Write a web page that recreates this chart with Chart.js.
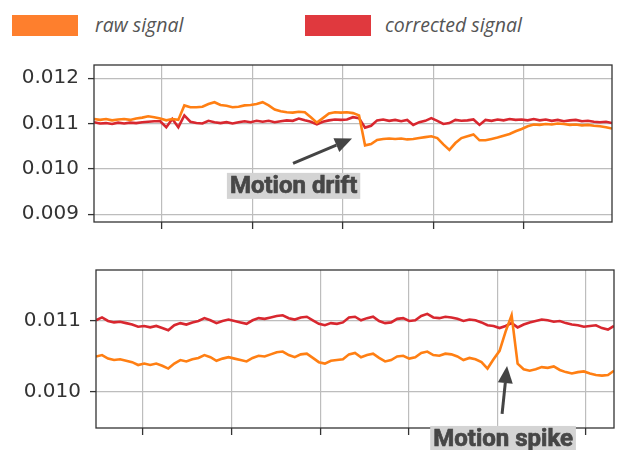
<!DOCTYPE html>
<html>
<head>
<meta charset="utf-8">
<script src="https://cdn.jsdelivr.net/npm/chart.js@4.4.1/dist/chart.umd.min.js"></script>
<style>
  html, body { margin: 0; padding: 0; background: #fff; }
  #wrap { position: relative; width: 625px; height: 450px; overflow: hidden; }
  #wrap canvas { position: absolute; left: 0; top: 0; }
  .legend-box { position: absolute; width: 66px; height: 21px; }
  .legend-text {
    position: absolute; font-family: 'Open Sans', sans-serif; font-style: italic;
    font-size: 19.5px; color: #555; line-height: 21px; white-space: nowrap;
  }
</style>
</head>
<body>
<div id="wrap">
  <div class="legend-box" style="left:12px; top:15px; background:#fe7f2d;"></div>
  <div class="legend-text" style="left:95px; top:14px;">raw signal</div>
  <div class="legend-box" style="left:305px; top:15px; background:#e0393e;"></div>
  <div class="legend-text" style="left:385px; top:14px;">corrected signal</div>
  <canvas id="topChart" width="625" height="450"></canvas>
  <canvas id="bottomChart" width="625" height="450"></canvas>
</div>
<script>
// Top panel (motion drift)
const topStart = 0.249;
const topEnd = 5.972;
const topXTicks = [1, 2, 3, 4, 5];
const topYTicks = [0.009, 0.010, 0.011, 0.012];
const topRaw = [
  0.01110, 0.01108, 0.01110, 0.01107, 0.01109, 0.01110, 0.01108, 0.01111, 0.01113, 0.01116,
  0.01114, 0.01111, 0.01107, 0.01110, 0.01108, 0.01140, 0.01136, 0.01136, 0.01137, 0.01143,
  0.01147, 0.01141, 0.01139, 0.01136, 0.01137, 0.01140, 0.01141, 0.01143, 0.01147, 0.01140,
  0.01131, 0.01127, 0.01125, 0.01124, 0.01126, 0.01125, 0.01114, 0.01102, 0.01112, 0.01122,
  0.01125, 0.01124, 0.01125, 0.01123, 0.01118, 0.01052, 0.01055, 0.01064, 0.01066, 0.01067,
  0.01066, 0.01067, 0.01065, 0.01066, 0.01068, 0.01070, 0.01072, 0.01068, 0.01054, 0.01042,
  0.01057, 0.01068, 0.01072, 0.01076, 0.01063, 0.01063, 0.01066, 0.01069, 0.01073, 0.01077,
  0.01083, 0.01088, 0.01094, 0.01098, 0.01097, 0.01099, 0.01098, 0.01100, 0.01099, 0.01097,
  0.01098, 0.01096, 0.01097, 0.01095, 0.01094, 0.01092, 0.01089
];
const topCorrected = [
  0.01103, 0.01100, 0.01101, 0.01099, 0.01102, 0.01100, 0.01102, 0.01101, 0.01103, 0.01104,
  0.01105, 0.01105, 0.01092, 0.01110, 0.01092, 0.01118, 0.01104, 0.01101, 0.01100, 0.01106,
  0.01103, 0.01101, 0.01103, 0.01100, 0.01103, 0.01105, 0.01103, 0.01106, 0.01104, 0.01106,
  0.01103, 0.01105, 0.01107, 0.01106, 0.01111, 0.01107, 0.01104, 0.01098, 0.01104, 0.01107,
  0.01109, 0.01108, 0.01109, 0.01114, 0.01112, 0.01091, 0.01095, 0.01107, 0.01109, 0.01106,
  0.01108, 0.01105, 0.01108, 0.01097, 0.01103, 0.01106, 0.01112, 0.01106, 0.01099, 0.01101,
  0.01108, 0.01106, 0.01107, 0.01109, 0.01097, 0.01108, 0.01106, 0.01109, 0.01107, 0.01110,
  0.01108, 0.01109, 0.01107, 0.01110, 0.01107, 0.01109, 0.01106, 0.01108, 0.01105, 0.01107,
  0.01108, 0.01105, 0.01106, 0.01104, 0.01103, 0.01104, 0.01101
];

// Bottom panel (motion spike)
const bottomStart = 0.470;
const bottomEnd = 6.316;
const bottomXTicks = [1, 2, 3, 4, 5, 6];
const bottomYTicks = [0.010, 0.011];
const bottomRaw = [
  0.01050, 0.01052, 0.01047, 0.01045, 0.01046, 0.01044, 0.01042, 0.01038, 0.01040, 0.01038,
  0.01040, 0.01037, 0.01033, 0.01040, 0.01045, 0.01043, 0.01046, 0.01048, 0.01052, 0.01049,
  0.01044, 0.01047, 0.01049, 0.01047, 0.01045, 0.01043, 0.01048, 0.01051, 0.01050, 0.01053,
  0.01056, 0.01057, 0.01052, 0.01049, 0.01053, 0.01054, 0.01048, 0.01042, 0.01040, 0.01044,
  0.01045, 0.01046, 0.01053, 0.01055, 0.01049, 0.01052, 0.01054, 0.01048, 0.01043, 0.01045,
  0.01050, 0.01051, 0.01047, 0.01049, 0.01055, 0.01057, 0.01052, 0.01051, 0.01054, 0.01053,
  0.01050, 0.01045, 0.01048, 0.01046, 0.01042, 0.01033, 0.01046, 0.01058, 0.01085, 0.01108,
  0.01040, 0.01032, 0.01030, 0.01032, 0.01035, 0.01034, 0.01036, 0.01031, 0.01028, 0.01026,
  0.01028, 0.01029, 0.01026, 0.01024, 0.01023, 0.01024, 0.01030
];
const bottomCorrected = [
  0.01101, 0.01105, 0.01100, 0.01098, 0.01099, 0.01097, 0.01095, 0.01092, 0.01093, 0.01091,
  0.01093, 0.01090, 0.01087, 0.01094, 0.01097, 0.01095, 0.01098, 0.01100, 0.01104, 0.01101,
  0.01097, 0.01100, 0.01102, 0.01100, 0.01098, 0.01096, 0.01101, 0.01104, 0.01103, 0.01105,
  0.01107, 0.01108, 0.01104, 0.01102, 0.01105, 0.01106, 0.01101, 0.01096, 0.01094, 0.01097,
  0.01096, 0.01098, 0.01105, 0.01106, 0.01101, 0.01104, 0.01106, 0.01100, 0.01097, 0.01098,
  0.01103, 0.01104, 0.01100, 0.01101, 0.01107, 0.01110, 0.01105, 0.01104, 0.01106, 0.01105,
  0.01103, 0.01100, 0.01102, 0.01101, 0.01098, 0.01094, 0.01093, 0.01090, 0.01093, 0.01097,
  0.01091, 0.01095, 0.01098, 0.01100, 0.01102, 0.01101, 0.01099, 0.01100, 0.01097, 0.01095,
  0.01094, 0.01092, 0.01093, 0.01094, 0.01090, 0.01088, 0.01093
];

// annotation anchors, in data units
const driftNote = { label: 'Motion drift', text: [2.454, 0.009626], from: [2.448, 0.010121], to: [3.100, 0.010670] };
const spikeNote = { label: 'Motion spike', text: [5.064, 0.009339], from: [5.053, 0.009691], to: [5.109, 0.010366] };

const RAW_COLOR = '#ff7f13';
const CORR_COLOR = '#d8272f';

// spread samples evenly over the recorded span
function toPoints(values, start, end) {
  const step = (end - start) / (values.length - 1);
  return values.map((v, i) => ({ x: start + i * step, y: v }));
}

// frame round the plot area + the annotation with arrow
const framePlugin = {
  id: 'frame',
  afterDraw(chart, args, opts) {
    const { ctx, chartArea: a, scales } = chart;
    ctx.save();
    ctx.strokeStyle = '#333';
    ctx.lineWidth = 1.3;
    ctx.strokeRect(a.left, a.top, a.right - a.left, a.bottom - a.top);

    const note = opts.note;
    if (note) {
      const px = p => [scales.x.getPixelForValue(p[0]), scales.y.getPixelForValue(p[1])];
      const [tx, ty] = px(note.text);
      const [fx, fy] = px(note.from);
      const [hx, hy] = px(note.to);

      // arrow
      const ang = Math.atan2(hy - fy, hx - fx);
      const headLen = 17, headW = 7.5;
      const bx = hx - headLen * Math.cos(ang), by = hy - headLen * Math.sin(ang);
      ctx.strokeStyle = '#444';
      ctx.fillStyle = '#444';
      ctx.lineWidth = 3;
      ctx.beginPath();
      ctx.moveTo(fx, fy);
      ctx.lineTo(bx, by);
      ctx.stroke();
      ctx.beginPath();
      ctx.moveTo(hx, hy);
      ctx.lineTo(bx + headW * Math.sin(ang), by - headW * Math.cos(ang));
      ctx.lineTo(bx - headW * Math.sin(ang), by + headW * Math.cos(ang));
      ctx.closePath();
      ctx.fill();

      // label box
      ctx.font = "bold 24px Roboto, sans-serif";
      const w = ctx.measureText(note.label).width;
      ctx.fillStyle = '#d4d4d4';
      ctx.fillRect(tx - w / 2 - 3, ty - 13, w + 6, 26);
      ctx.fillStyle = '#474747';
      ctx.strokeStyle = '#474747';
      ctx.lineWidth = 0.7;
      ctx.textAlign = 'center';
      ctx.textBaseline = 'middle';
      ctx.fillText(note.label, tx, ty + 1);
      ctx.strokeText(note.label, tx, ty + 1);
    }
    ctx.restore();
  }
};

function makeChart(id, cfg) {
  const ctx = document.getElementById(id).getContext('2d');
  return new Chart(ctx, {
    type: 'line',
    data: {
      datasets: [
        {
          label: 'raw signal',
          data: toPoints(cfg.raw, cfg.start, cfg.end),
          borderColor: RAW_COLOR,
          borderWidth: 2.6,
          pointRadius: 0,
          tension: 0
        },
        {
          label: 'corrected signal',
          data: toPoints(cfg.corrected, cfg.start, cfg.end),
          borderColor: CORR_COLOR,
          borderWidth: 2.6,
          pointRadius: 0,
          tension: 0
        }
      ]
    },
    options: {
      responsive: false,
      animation: false,
      events: [],
      layout: { padding: cfg.padding },
      plugins: {
        legend: { display: false },
        tooltip: { enabled: false },
        frame: { note: cfg.note }
      },
      scales: {
        x: {
          type: 'linear',
          min: cfg.start,
          max: cfg.end,
          afterBuildTicks: s => { s.ticks = cfg.xTicks.map(v => ({ value: v })); },
          afterFit: s => { s.height = 7; },
          ticks: { display: false },
          border: { display: false },
          grid: { color: '#bdbdbd', lineWidth: 1.2, tickLength: 7, tickColor: '#333', tickWidth: 1.3 }
        },
        y: {
          min: cfg.yMin,
          max: cfg.yMax,
          afterBuildTicks: s => { s.ticks = cfg.yTicks.map(v => ({ value: v })); },
          afterFit: s => { s.width = cfg.padding.leftAxis; },
          ticks: {
            padding: 9,
            color: '#333',
            font: { family: "'DejaVu Sans', sans-serif", size: 20 },
            callback: v => v.toFixed(3)
          },
          border: { display: false },
          grid: { color: '#bdbdbd', lineWidth: 1.2, tickLength: 6, tickColor: '#333', tickWidth: 1.3 }
        }
      }
    },
    plugins: [framePlugin]
  });
}

makeChart('topChart', {
  raw: topRaw, corrected: topCorrected,
  start: topStart, end: topEnd,
  xTicks: topXTicks, yTicks: topYTicks,
  yMin: 0.00883, yMax: 0.01229,
  padding: { left: 0, top: 65, right: 13, bottom: 221, leftAxis: 94 },
  note: driftNote
});

makeChart('bottomChart', {
  raw: bottomRaw, corrected: bottomCorrected,
  start: bottomStart, end: bottomEnd,
  xTicks: bottomXTicks, yTicks: bottomYTicks,
  yMin: 0.009493, yMax: 0.011718,
  padding: { left: 0, top: 270, right: 11, bottom: 15, leftAxis: 96 },
  note: spikeNote
});
</script>
</body>
</html>
